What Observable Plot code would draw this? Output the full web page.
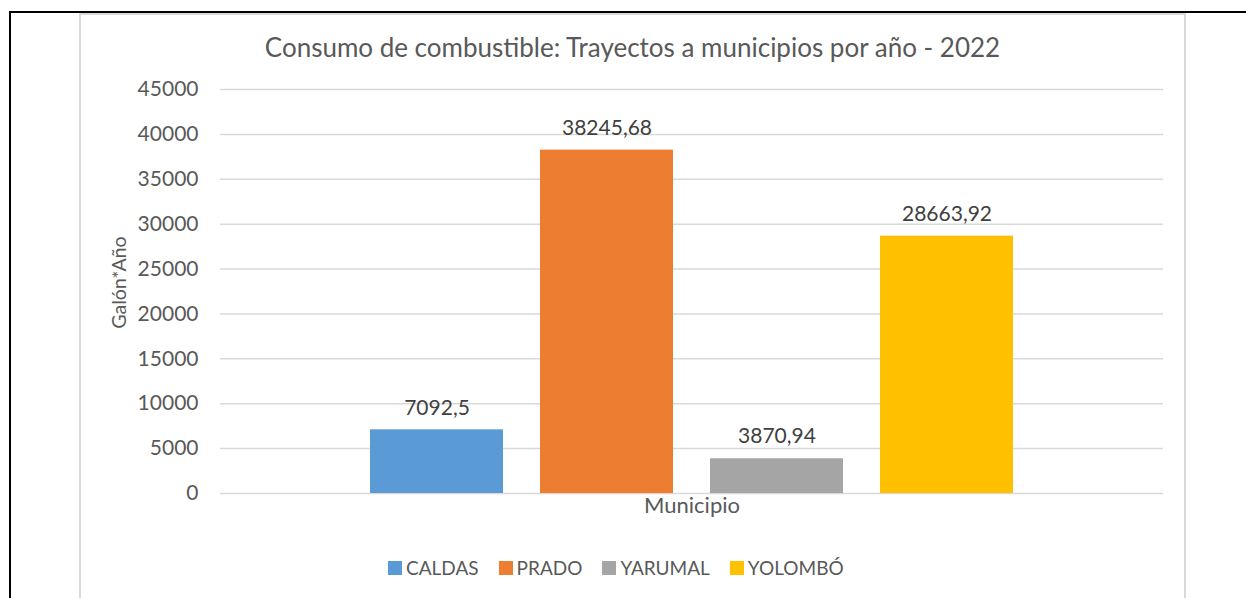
<!DOCTYPE html>
<html>
<head>
<meta charset="utf-8">
<script src="https://cdn.jsdelivr.net/npm/d3@7"></script>
<script src="https://cdn.jsdelivr.net/npm/@observablehq/plot@0.6"></script>
<style>
  html, body { margin: 0; padding: 0; background: #fff; }
  #wrap { position: relative; width: 1246px; height: 598px; overflow: hidden; background: #fff; font-family: Lato, "Open Sans", sans-serif; color: #595959; }
  #outer { position: absolute; left: 9px; top: 11px; width: 1400px; height: 800px; border-left: 2px solid #000; border-top: 2px solid #000; box-sizing: border-box; }
  #area { position: absolute; left: 79px; top: 13px; width: 1107px; height: 800px; border: 2px solid #d9d9d9; box-sizing: border-box; }
  #title { position: absolute; left: 80px; width: 1105px; top: 32px; text-align: center; font-size: 26px; line-height: 30px; white-space: nowrap; }
  #plot { position: absolute; left: 0; top: 60px; }
  #legend { position: absolute; left: 388px; top: 557px; display: flex; justify-content: flex-start; font-size: 19px; line-height: 22px; }
  .item { display: flex; align-items: center; margin-right: 20px; }
  .sw { width: 14px; height: 14px; margin-right: 4px; }
</style>
</head>
<body>
<div id="wrap">
  <div id="outer"></div>
  <div id="area"></div>
  <div id="title">Consumo de combustible: Trayectos a municipios por año - 2022</div>
  <div id="plot"></div>
  <div id="legend"></div>
</div>
<script>
const municipios = ["CALDAS", "PRADO", "YARUMAL", "YOLOMBÓ"];
const galones = [7092.5, 38245.68, 3870.94, 28663.92];
const colores = ["#5B9BD5", "#ED7D31", "#A5A5A5", "#FFC000"];
const yTicks = [0, 5000, 10000, 15000, 20000, 25000, 30000, 35000, 40000, 45000];
const yLabel = "Galón*Año";
const xLabel = "Municipio";

const data = municipios.map((m, i) => ({municipio: m, valor: galones[i]}));
const fmt = v => String(v).replace(".", ",");

const chart = Plot.plot({
  width: 1246,
  height: 480,
  marginTop: 29,
  marginBottom: 47,
  marginLeft: 220,
  marginRight: 83,
  style: {fontFamily: "Lato, 'Open Sans', sans-serif", color: "#595959", background: "transparent"},
  x: {domain: municipios, paddingInner: 0.216, paddingOuter: 0.866, axis: null},
  y: {domain: [0, 45000], axis: null},
  color: {domain: municipios, range: colores},
  marks: [
    Plot.gridY(yTicks, {stroke: "#d9d9d9", strokeOpacity: 1, strokeWidth: 1.5}),
    Plot.axisY(yTicks, {tickSize: 0, tickPadding: 22, tickFormat: d => String(d), fontSize: 21, fill: "#595959", label: null}),
    Plot.barY(data, {x: "municipio", y: "valor", fill: "municipio"}),
    Plot.text(data, {x: "municipio", y: "valor", text: d => fmt(d.valor), dy: -22, fontSize: 21, fill: "#404040"}),
    Plot.text([yLabel], {frameAnchor: "left", textAnchor: "middle", rotate: -90, dx: -101, dy: -9, fontSize: 19.5, fill: "#595959"}),
    Plot.text([xLabel], {frameAnchor: "bottom", dy: 19, fontSize: 22, fill: "#595959"})
  ]
});
document.getElementById("plot").appendChild(chart);

const legend = document.getElementById("legend");
municipios.forEach((m, i) => {
  const it = document.createElement("div");
  it.className = "item";
  const sw = document.createElement("div");
  sw.className = "sw";
  sw.style.background = colores[i];
  const t = document.createElement("span");
  t.textContent = m;
  it.appendChild(sw);
  it.appendChild(t);
  legend.appendChild(it);
});
</script>
</body>
</html>
